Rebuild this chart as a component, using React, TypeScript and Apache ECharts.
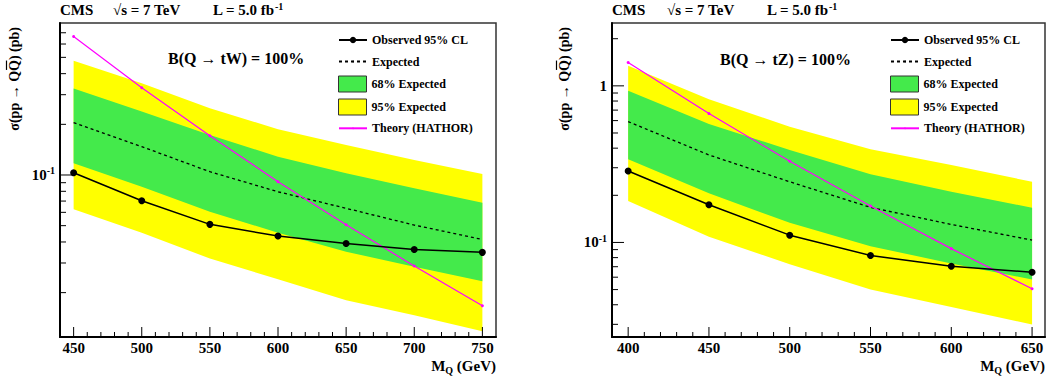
import React, { useEffect, useRef } from 'react';
import * as echarts from 'echarts';

// ---------- data: B(Q -> tW) = 100% ----------
const massTW = [450, 500, 550, 600, 650, 700, 750];
const obsTW = [0.1032, 0.0703, 0.0509, 0.0434, 0.0392, 0.0361, 0.0347];
const expTW = [0.2048, 0.1474, 0.1046, 0.0795, 0.0634, 0.0504, 0.0414];
const g68HiTW = [0.3264, 0.238, 0.173, 0.1285, 0.1023, 0.0834, 0.0685];
const g68LoTW = [0.1174, 0.0852, 0.0605, 0.0454, 0.035, 0.0285, 0.0234];
const y95HiTW = [0.477, 0.3514, 0.2495, 0.187, 0.1509, 0.1228, 0.1014];
const y95LoTW = [0.0625, 0.0453, 0.0319, 0.024, 0.018, 0.0147, 0.0118];
const theoryTW = [0.665, 0.33, 0.171, 0.0913, 0.0506, 0.0288, 0.0167];

// ---------- data: B(Q -> tZ) = 100% ----------
const massTZ = [400, 450, 500, 550, 600, 650];
const obsTZ = [0.2859, 0.174, 0.1113, 0.0826, 0.0705, 0.0645];
const expTZ = [0.591, 0.362, 0.244, 0.1675, 0.1303, 0.1035];
const g68HiTZ = [0.929, 0.571, 0.3895, 0.2723, 0.2107, 0.1665];
const g68LoTZ = [0.3397, 0.2058, 0.1335, 0.0947, 0.0734, 0.058];
const y95HiTZ = [1.342, 0.822, 0.549, 0.3936, 0.3123, 0.2442];
const y95LoTZ = [0.1837, 0.1086, 0.0727, 0.05, 0.0387, 0.0299];
const theoryTZ = [1.41, 0.665, 0.33, 0.171, 0.0913, 0.0506];

// ---------- axis ranges ----------
const xRangeTW = [440, 760];
const yRangeTW = [0.0109, 0.8];
const xRangeTZ = [390, 658];
const yRangeTZ = [0.0249, 2.52];

// ---------- texts ----------
const legendNames = ['Observed 95% CL', 'Expected', '68% Expected', '95% Expected', 'Theory (HATHOR)'];
const headerTexts = ['CMS', '√s = 7 TeV', 'L = 5.0 fb'];
const lumiSup = '-1';
const channelTW = 'B(Q → tW) = 100%';
const channelTZ = 'B(Q → tZ) = 100%';
const yTitleParts = ['σ(pp → Q', 'Q', ') (pb)'];
const xTitleParts = ['M', 'Q', ' (GeV)'];

const FONT = "'Liberation Serif', 'Times New Roman', Times, serif";
const GREEN = '#44ea4b';
const YELLOW = '#ffff00';
const MAGENTA = '#ff00ff';

function zip(xs: number[], ys: number[]) {
  return xs.map((x, i) => [x, ys[i]]);
}

function xTicks(range: number[], yMin: number) {
  const out: number[][] = [];
  const start = Math.ceil(range[0] / 10) * 10;
  for (let v = start; v <= range[1]; v += 10) {
    if (v <= range[0] || v >= range[1]) continue;
    out.push([v, yMin, v % 50 === 0 ? 10 : 5, 0]);
  }
  return out;
}

function yTicks(range: number[], xMin: number) {
  const out: number[][] = [];
  const e0 = Math.floor(Math.log10(range[0]));
  const e1 = Math.ceil(Math.log10(range[1]));
  for (let e = e0; e <= e1; e++) {
    for (let m = 1; m <= 9; m++) {
      const v = m * Math.pow(10, e);
      if (v > range[0] * 1.001 && v < range[1] * 0.999) out.push([xMin, v, m === 1 ? 12 : 6, 1]);
    }
  }
  return out;
}

function tickSeries(idx: number, data: number[][]) {
  return {
    type: 'custom',
    xAxisIndex: idx,
    yAxisIndex: idx,
    data,
    silent: true,
    clip: false,
    z: 20,
    encode: { x: 0, y: 1 },
    renderItem: (params: any, api: any) => {
      const p = api.coord([api.value(0), api.value(1)]);
      const len = api.value(2);
      const dir = api.value(3);
      return {
        type: 'line',
        shape: dir === 0
          ? { x1: p[0], y1: p[1], x2: p[0], y2: p[1] - len }
          : { x1: p[0], y1: p[1], x2: p[0] + len, y2: p[1] },
        style: { stroke: '#000', lineWidth: 1 },
      };
    },
  };
}

function bandSeries(name: string, color: string, idx: number, xs: number[], hi: number[], lo: number[], z: number) {
  return {
    type: 'custom',
    name,
    xAxisIndex: idx,
    yAxisIndex: idx,
    itemStyle: { color },
    silent: true,
    z,
    data: zip(xs, hi),
    encode: { x: 0, y: 1 },
    renderItem: (params: any, api: any) => {
      if (params.dataIndex !== 0) return null;
      const pts: number[][] = [];
      xs.forEach((x, i) => pts.push(api.coord([x, hi[i]])));
      for (let i = xs.length - 1; i >= 0; i--) pts.push(api.coord([xs[i], lo[i]]));
      return { type: 'polygon', shape: { points: pts }, style: { fill: color } };
    },
  };
}

const labelRich = {
  b: { fontSize: 15, fontWeight: 'bold', fontFamily: FONT, color: '#000' },
  s: { fontSize: 10, fontWeight: 'bold', fontFamily: FONT, color: '#000', padding: [0, 0, 8, 0] },
};

function powLabel(v: number) {
  const l = Math.log10(v);
  const r = Math.round(l);
  if (Math.abs(l - r) > 1e-6) return '';
  if (r === 0) return '{b|1}';
  return '{b|10}{s|' + r + '}';
}

function panel(idx: number, cfg: any) {
  const { mass, obs, exp, g68Hi, g68Lo, y95Hi, y95Lo, theory, xRange, yRange, legendLeft } = cfg;
  const series = [
    bandSeries('95% Expected', YELLOW, idx, mass, y95Hi, y95Lo, 1),
    bandSeries('68% Expected', GREEN, idx, mass, g68Hi, g68Lo, 2),
    {
      type: 'line', name: 'Expected', xAxisIndex: idx, yAxisIndex: idx, data: zip(mass, exp),
      symbol: 'none', z: 3,
      lineStyle: { color: '#000', width: 1.3, type: [3, 3] }, itemStyle: { color: '#000' },
    },
    {
      type: 'line', name: 'Theory (HATHOR)', xAxisIndex: idx, yAxisIndex: idx, data: zip(mass, theory),
      symbol: 'circle', symbolSize: 3, z: 4,
      lineStyle: { color: MAGENTA, width: 1.2 }, itemStyle: { color: MAGENTA },
    },
    {
      type: 'line', name: 'Observed 95% CL', xAxisIndex: idx, yAxisIndex: idx, data: zip(mass, obs),
      symbol: 'circle', symbolSize: 7, z: 5,
      lineStyle: { color: '#000', width: 1.5 }, itemStyle: { color: '#000' },
    },
    tickSeries(idx, [...xTicks(xRange, yRange[0]), ...yTicks(yRange, xRange[0])]),
  ];

  const rowCenters = [40, 61.5, 83.5, 106.5, 128.3];
  const rowHeights = [8, 2, 16, 16, 2];
  const legends = legendNames.map((name, i) => {
    const item: any = { name };
    if (i === 2 || i === 3) {
      item.icon = 'rect';
      item.itemStyle = { borderColor: '#333', borderWidth: 1 };
    }
    return {
      data: [item],
      left: legendLeft,
      top: rowCenters[i] - 8,
      padding: 0,
      itemWidth: 28,
      itemHeight: rowHeights[i],
      selectedMode: false,
      textStyle: { fontFamily: FONT, fontWeight: 'bold', fontSize: 12, color: '#000', lineHeight: 16 },
    };
  });

  const xAxis = {
    type: 'value', gridIndex: idx, min: xRange[0], max: xRange[1], interval: 10,
    axisLine: { onZero: false, lineStyle: { color: '#000', width: 2 } },
    axisTick: { show: false }, splitLine: { show: false },
    axisLabel: {
      formatter: (v: number) => (v % 50 === 0 ? String(v) : ''),
      color: '#000', fontFamily: FONT, fontWeight: 'bold', fontSize: 15, margin: 3,
    },
  };
  const yAxis = {
    type: 'log', logBase: 10, gridIndex: idx, min: yRange[0], max: yRange[1],
    axisLine: { onZero: false, lineStyle: { color: '#000', width: 2 } },
    axisTick: { show: false }, splitLine: { show: false }, minorTick: { show: false },
    axisLabel: { formatter: powLabel, rich: labelRich, margin: 5 },
  };
  return { series, legends, xAxis, yAxis };
}

function headerGraphics(x0: number, xs: number[]) {
  const st = { fontFamily: FONT, fontWeight: 'bold', fontSize: 15, fill: '#000' };
  return [
    { type: 'text', x: x0 + xs[0], y: 10, style: { ...st, text: headerTexts[0], verticalAlign: 'middle' } },
    { type: 'text', x: x0 + xs[1], y: 10, style: { ...st, text: headerTexts[1], verticalAlign: 'middle' } },
    {
      type: 'text', x: x0 + xs[2], y: 10,
      style: {
        text: '{a|' + headerTexts[2] + '}{s|' + lumiSup + '}', verticalAlign: 'middle',
        rich: {
          a: { ...st },
          s: { fontFamily: FONT, fontWeight: 'bold', fontSize: 10, fill: '#000', padding: [0, 0, 8, 0] },
        },
      },
    },
  ];
}

function measure(text: string, size: number) {
  const c = document.createElement('canvas').getContext('2d');
  if (!c) return text.length * size * 0.5;
  c.font = 'bold ' + size + 'px ' + FONT;
  return c.measureText(text).width;
}

function yTitleGraphic(x: number, topY: number) {
  const size = 14;
  const full = yTitleParts.join('');
  const W = measure(full, size);
  const wPre = measure(yTitleParts[0], size);
  const wQ = measure(yTitleParts[1], size);
  return {
    type: 'group',
    x,
    y: topY + W,
    rotation: Math.PI / 2,
    children: [
      {
        type: 'text', x: 0, y: 0,
        style: { text: full, fontFamily: FONT, fontWeight: 'bold', fontSize: size, fill: '#000', align: 'left', verticalAlign: 'middle' },
      },
      {
        type: 'line',
        shape: { x1: wPre + 1, y1: -7.5, x2: wPre + wQ - 0.5, y2: -7.5 },
        style: { stroke: '#000', lineWidth: 1.2 },
      },
    ],
  };
}

function xTitleGraphic(rightX: number, y: number) {
  return {
    type: 'text', x: rightX, y,
    style: {
      text: '{m|' + xTitleParts[0] + '}{q|' + xTitleParts[1] + '}{m|' + xTitleParts[2] + '}',
      align: 'right', verticalAlign: 'middle',
      rich: {
        m: { fontSize: 15, fontWeight: 'bold', fontFamily: FONT, fill: '#000' },
        q: { fontSize: 10, fontWeight: 'bold', fontFamily: FONT, fill: '#000', padding: [9, 0, 0, 0] },
      },
    },
  };
}

function buildOption() {
  const p0 = panel(0, {
    mass: massTW, obs: obsTW, exp: expTW, g68Hi: g68HiTW, g68Lo: g68LoTW, y95Hi: y95HiTW, y95Lo: y95LoTW,
    theory: theoryTW, xRange: xRangeTW, yRange: yRangeTW, legendLeft: 338,
  });
  const p1 = panel(1, {
    mass: massTZ, obs: obsTZ, exp: expTZ, g68Hi: g68HiTZ, g68Lo: g68LoTZ, y95Hi: y95HiTZ, y95Lo: y95LoTZ,
    theory: theoryTZ, xRange: xRangeTZ, yRange: yRangeTZ, legendLeft: 890,
  });
  const titleStyle = { fontFamily: FONT, fontWeight: 'bold', fontSize: 16, fill: '#000' };
  return {
    animation: false,
    backgroundColor: '#fff',
    grid: [
      { left: 60, top: 23, width: 436, height: 314, show: true, borderColor: '#333', borderWidth: 1.5, backgroundColor: 'transparent' },
      { left: 612, top: 23, width: 433, height: 314, show: true, borderColor: '#333', borderWidth: 1.5, backgroundColor: 'transparent' },
    ],
    xAxis: [p0.xAxis, p1.xAxis],
    yAxis: [p0.yAxis, p1.yAxis],
    legend: [...p0.legends, ...p1.legends],
    series: [...p0.series, ...p1.series],
    graphic: [
      ...headerGraphics(60, [0, 53, 153]),
      ...headerGraphics(612, [0, 55, 155]),
      { type: 'text', x: 168, y: 58, style: { ...titleStyle, text: channelTW, verticalAlign: 'middle' } },
      { type: 'text', x: 720, y: 59, style: { ...titleStyle, text: channelTZ, verticalAlign: 'middle' } },
      yTitleGraphic(14, 27),
      yTitleGraphic(564, 27),
      xTitleGraphic(496, 366),
      xTitleGraphic(1045, 366),
    ],
  };
}

export default function App() {
  const ref = useRef<HTMLDivElement>(null);
  useEffect(() => {
    if (!ref.current) return;
    const chart = echarts.init(ref.current, undefined, { renderer: 'svg' });
    chart.setOption(buildOption() as any);
    return () => chart.dispose();
  }, []);
  return <div ref={ref} style={{ position: 'absolute', left: 0, top: 0, width: 1049, height: 380 }} />;
}
